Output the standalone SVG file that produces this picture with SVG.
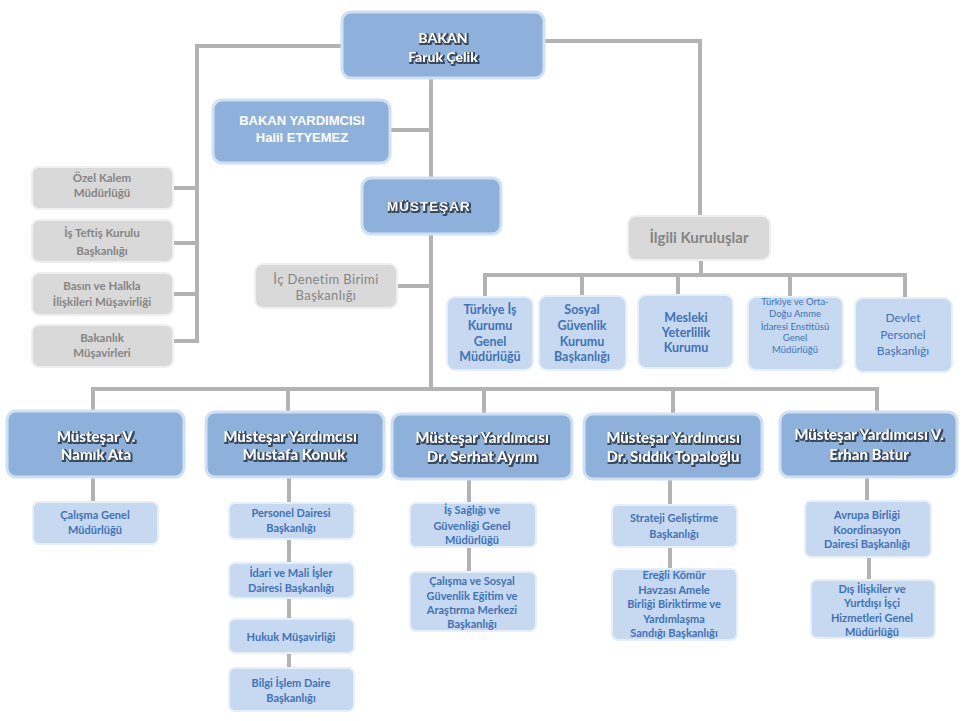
<svg xmlns="http://www.w3.org/2000/svg" width="965" height="721" viewBox="0 0 965 721">
<defs>
<filter id="sh" x="-10%" y="-40%" width="120%" height="180%" color-interpolation-filters="sRGB">
<feMorphology in="SourceAlpha" operator="dilate" radius="0.5" result="d"/>
<feOffset in="d" dx="1" dy="1.3" result="o"/>
<feGaussianBlur in="o" stdDeviation="0.5" result="b"/>
<feFlood flood-color="#34435c" flood-opacity="0.95"/>
<feComposite in2="b" operator="in" result="s"/>
<feMerge><feMergeNode in="s"/><feMergeNode in="SourceGraphic"/></feMerge>
</filter>
</defs>
<style>
.ln{stroke:#b3b3b3;stroke-width:4;fill:none}
.mb{fill:#8eb1db;stroke:#cfe0f3;stroke-width:3}
.lb{fill:#c6d9f1;stroke:#e6eef8;stroke-width:2}
.gb{fill:#d9d9d9;stroke:#efefef;stroke-width:2}
text{font-family:Lato,"Open Sans","DejaVu Sans",sans-serif;text-anchor:middle}
.wt{fill:#ffffff;font-weight:900;font-size:15px}
.wa{fill:#ffffff;font-weight:bold;font-family:"Liberation Sans",Arial,sans-serif;font-size:13px}
.bt{fill:#3f72b8;font-weight:bold;font-size:11px}
.gt{fill:#858585;font-weight:bold;font-size:11.5px}
</style>
<rect width="965" height="721" fill="#ffffff"/>
<g id="connectors">
<polyline class="ln" points="342,46 197,46 197,341"/>
<line class="ln" x1="173" y1="188" x2="197" y2="188"/>
<line class="ln" x1="173" y1="243" x2="197" y2="243"/>
<line class="ln" x1="173" y1="294" x2="197" y2="294"/>
<line class="ln" x1="173" y1="341" x2="199" y2="341"/>
<polyline class="ln" points="544,41 700,41 700,216"/>
<line class="ln" x1="431" y1="78" x2="431" y2="178"/>
<line class="ln" x1="431" y1="234" x2="431" y2="391"/>
<line class="ln" x1="390" y1="130" x2="431" y2="130"/>
<line class="ln" x1="397" y1="286" x2="431" y2="286"/>
<line class="ln" x1="701" y1="260" x2="701" y2="275"/>
<line class="ln" x1="483" y1="275" x2="907" y2="275"/>
<line class="ln" x1="485" y1="275" x2="485" y2="297"/>
<line class="ln" x1="582" y1="275" x2="582" y2="296"/>
<line class="ln" x1="678" y1="275" x2="678" y2="295"/>
<line class="ln" x1="790" y1="275" x2="790" y2="297"/>
<line class="ln" x1="905" y1="275" x2="905" y2="298"/>
<line class="ln" x1="91" y1="389" x2="879" y2="389"/>
<line class="ln" x1="93" y1="389" x2="93" y2="411"/>
<line class="ln" x1="288" y1="389" x2="288" y2="412"/>
<line class="ln" x1="484" y1="389" x2="484" y2="414"/>
<line class="ln" x1="673" y1="389" x2="673" y2="414"/>
<line class="ln" x1="877" y1="389" x2="877" y2="412"/>
<line class="ln" x1="93" y1="477" x2="93" y2="502"/>
<line class="ln" x1="289" y1="477" x2="289" y2="668"/>
<line class="ln" x1="469" y1="479" x2="469" y2="572"/>
<line class="ln" x1="670" y1="479" x2="670" y2="569"/>
<line class="ln" x1="867" y1="477" x2="867" y2="501"/>
<line class="ln" x1="869" y1="557" x2="869" y2="580"/>
</g>
<g id="bakan">
<rect class="mb" x="342" y="12" width="202" height="66" rx="9"/>
<g filter="url(#sh)">
<text class="wt" x="443" y="43" style="font-size:14px">BAKAN</text>
<text class="wt" x="443" y="62" style="font-size:14px">Faruk Çelik</text>
</g>
</g>
<g id="bakan-yardimcisi">
<rect class="mb" x="213" y="100" width="177" height="63" rx="9"/>
<text class="wa" x="302" y="125">BAKAN YARDIMCISI</text>
<text class="wa" x="302" y="142">Halil ETYEMEZ</text>
</g>
<g id="mustesar">
<rect class="mb" x="362" y="178" width="139" height="56" rx="9"/>
<g filter="url(#sh)">
<text class="wa" x="429" y="211" style="font-size:13.5px;letter-spacing:1px">MÜSTEŞAR</text>
</g>
</g>
<g id="ozel-kalem">
<rect class="gb" x="32" y="167" width="141" height="42" rx="7"/>
<text class="gt" x="102" y="182">Özel Kalem</text>
<text class="gt" x="102" y="197">Müdürlüğü</text>
</g>
<g id="is-teftis">
<rect class="gb" x="32" y="220" width="141" height="42" rx="7"/>
<text class="gt" x="102" y="237">İş Teftiş Kurulu</text>
<text class="gt" x="102" y="255">Başkanlığı</text>
</g>
<g id="basin">
<rect class="gb" x="32" y="273" width="141" height="42" rx="7"/>
<text class="gt" x="102" y="290">Basın ve Halkla</text>
<text class="gt" x="102" y="306">İlişkileri Müşavirliği</text>
</g>
<g id="bakanlik-musavirleri">
<rect class="gb" x="32" y="325" width="141" height="42" rx="7"/>
<text class="gt" x="102" y="342">Bakanlık</text>
<text class="gt" x="102" y="357">Müşavirleri</text>
</g>
<g id="ic-denetim">
<rect class="gb" x="255" y="264" width="142" height="44" rx="8"/>
<text class="gt" x="326" y="284" style="font-weight:normal;font-size:13px;letter-spacing:0.4px">İç Denetim Birimi</text>
<text class="gt" x="326" y="300" style="font-weight:normal;font-size:13px;letter-spacing:0.4px">Başkanlığı</text>
</g>
<g id="ilgili-kuruluslar">
<rect class="gb" x="628" y="216" width="142" height="44" rx="8"/>
<text class="gt" x="699" y="243" style="font-size:15px">İlgili Kuruluşlar</text>
</g>
<g id="iskur">
<rect class="lb" x="447" y="297" width="86" height="73" rx="8"/>
<text class="bt" x="490" y="314" style="font-size:12.5px">Türkiye İş</text>
<text class="bt" x="490" y="330" style="font-size:12.5px">Kurumu</text>
<text class="bt" x="490" y="346" style="font-size:12.5px">Genel</text>
<text class="bt" x="490" y="361" style="font-size:12.5px">Müdürlüğü</text>
</g>
<g id="sgk">
<rect class="lb" x="539" y="296" width="87" height="74" rx="8"/>
<text class="bt" x="582" y="314" style="font-size:12.5px">Sosyal</text>
<text class="bt" x="582" y="330" style="font-size:12.5px">Güvenlik</text>
<text class="bt" x="582" y="346" style="font-size:12.5px">Kurumu</text>
<text class="bt" x="582" y="361" style="font-size:12.5px">Başkanlığı</text>
</g>
<g id="myk">
<rect class="lb" x="638" y="295" width="95" height="73" rx="8"/>
<text class="bt" x="686" y="322" style="font-size:12.5px">Mesleki</text>
<text class="bt" x="686" y="337" style="font-size:12.5px">Yeterlilik</text>
<text class="bt" x="686" y="352" style="font-size:12.5px">Kurumu</text>
</g>
<g id="todaie">
<rect class="lb" x="748" y="297" width="95" height="73" rx="8"/>
<text class="bt" x="795" y="305" style="font-size:9.5px;font-weight:normal">Türkiye ve Orta-</text>
<text class="bt" x="795" y="317" style="font-size:9.5px;font-weight:normal">Doğu Amme</text>
<text class="bt" x="795" y="330" style="font-size:9.5px;font-weight:normal">İdaresi Enstitüsü</text>
<text class="bt" x="795" y="341" style="font-size:9.5px;font-weight:normal">Genel</text>
<text class="bt" x="795" y="353" style="font-size:9.5px;font-weight:normal">Müdürlüğü</text>
</g>
<g id="dpb">
<rect class="lb" x="855" y="298" width="97" height="74" rx="8"/>
<text class="bt" x="903" y="322" style="font-size:12px;font-weight:normal">Devlet</text>
<text class="bt" x="903" y="339" style="font-size:12px;font-weight:normal">Personel</text>
<text class="bt" x="903" y="355" style="font-size:12px;font-weight:normal">Başkanlığı</text>
</g>
<g id="mustesar-v">
<rect class="mb" x="7" y="411" width="177" height="66" rx="9"/>
<g filter="url(#sh)">
<text class="wt" x="96" y="442">Müsteşar  V.</text>
<text class="wt" x="96" y="460">Namık Ata</text>
</g>
</g>
<g id="my-konuk">
<rect class="mb" x="206" y="412" width="178" height="65" rx="9"/>
<g filter="url(#sh)">
<text class="wt" x="290" y="442">Müsteşar Yardımcısı</text>
<text class="wt" x="294" y="460">Mustafa Konuk</text>
</g>
</g>
<g id="my-ayrim">
<rect class="mb" x="392" y="414" width="180" height="65" rx="9"/>
<g filter="url(#sh)">
<text class="wt" x="482" y="443">Müsteşar Yardımcısı</text>
<text class="wt" x="482" y="462">Dr. Serhat Ayrım</text>
</g>
</g>
<g id="my-topaloglu">
<rect class="mb" x="584" y="414" width="178" height="65" rx="9"/>
<g filter="url(#sh)">
<text class="wt" x="673" y="443">Müsteşar Yardımcısı</text>
<text class="wt" x="673" y="462">Dr. Sıddık Topaloğlu</text>
</g>
</g>
<g id="myv-batur">
<rect class="mb" x="780" y="412" width="177" height="65" rx="9"/>
<g filter="url(#sh)">
<text class="wt" x="869" y="440">Müsteşar Yardımcısı V.</text>
<text class="wt" x="869" y="460">Erhan Batur</text>
</g>
</g>
<g id="calisma-gm">
<rect class="lb" x="33" y="502" width="125" height="42" rx="6"/>
<text class="bt" x="95" y="519">Çalışma Genel</text>
<text class="bt" x="95" y="534">Müdürlüğü</text>
</g>
<g id="personel-db">
<rect class="lb" x="229" y="503" width="125" height="36" rx="6"/>
<text class="bt" x="291" y="517">Personel Dairesi</text>
<text class="bt" x="291" y="532">Başkanlığı</text>
</g>
<g id="idari-mali">
<rect class="lb" x="229" y="563" width="125" height="35" rx="6"/>
<text class="bt" x="291" y="577">İdari ve Mali İşler</text>
<text class="bt" x="291" y="592">Dairesi Başkanlığı</text>
</g>
<g id="hukuk">
<rect class="lb" x="229" y="619" width="125" height="34" rx="6"/>
<text class="bt" x="291" y="641">Hukuk Müşavirliği</text>
</g>
<g id="bilgi-islem">
<rect class="lb" x="229" y="668" width="125" height="43" rx="6"/>
<text class="bt" x="291" y="687">Bilgi İşlem Daire</text>
<text class="bt" x="291" y="702">Başkanlığı</text>
</g>
<g id="isg">
<rect class="lb" x="410" y="503" width="126" height="44" rx="6"/>
<text class="bt" x="472" y="514">İş Sağlığı ve</text>
<text class="bt" x="472" y="530">Güvenliği Genel</text>
<text class="bt" x="472" y="544">Müdürlüğü</text>
</g>
<g id="casgem">
<rect class="lb" x="410" y="572" width="126" height="59" rx="6"/>
<text class="bt" x="472" y="585">Çalışma ve Sosyal</text>
<text class="bt" x="472" y="600">Güvenlik Eğitim ve</text>
<text class="bt" x="472" y="614">Araştırma Merkezi</text>
<text class="bt" x="472" y="628">Başkanlığı</text>
</g>
<g id="strateji">
<rect class="lb" x="612" y="505" width="125" height="42" rx="6"/>
<text class="bt" x="674" y="522">Strateji Geliştirme</text>
<text class="bt" x="674" y="538">Başkanlığı</text>
</g>
<g id="eregli">
<rect class="lb" x="612" y="569" width="125" height="71" rx="6"/>
<text class="bt" x="674" y="579">Ereğli Kömür</text>
<text class="bt" x="674" y="594">Havzası Amele</text>
<text class="bt" x="674" y="608">Birliği Biriktirme ve</text>
<text class="bt" x="674" y="623">Yardımlaşma</text>
<text class="bt" x="674" y="637">Sandığı Başkanlığı</text>
</g>
<g id="abkd">
<rect class="lb" x="805" y="501" width="126" height="56" rx="6"/>
<text class="bt" x="867" y="519">Avrupa Birliği</text>
<text class="bt" x="867" y="534">Koordinasyon</text>
<text class="bt" x="867" y="548">Dairesi Başkanlığı</text>
</g>
<g id="dis-iliskiler">
<rect class="lb" x="811" y="580" width="124" height="58" rx="6"/>
<text class="bt" x="872" y="593">Dış İlişkiler ve</text>
<text class="bt" x="872" y="607">Yurtdışı İşçi</text>
<text class="bt" x="872" y="622">Hizmetleri  Genel</text>
<text class="bt" x="872" y="636">Müdürlüğü</text>
</g>
</svg>
